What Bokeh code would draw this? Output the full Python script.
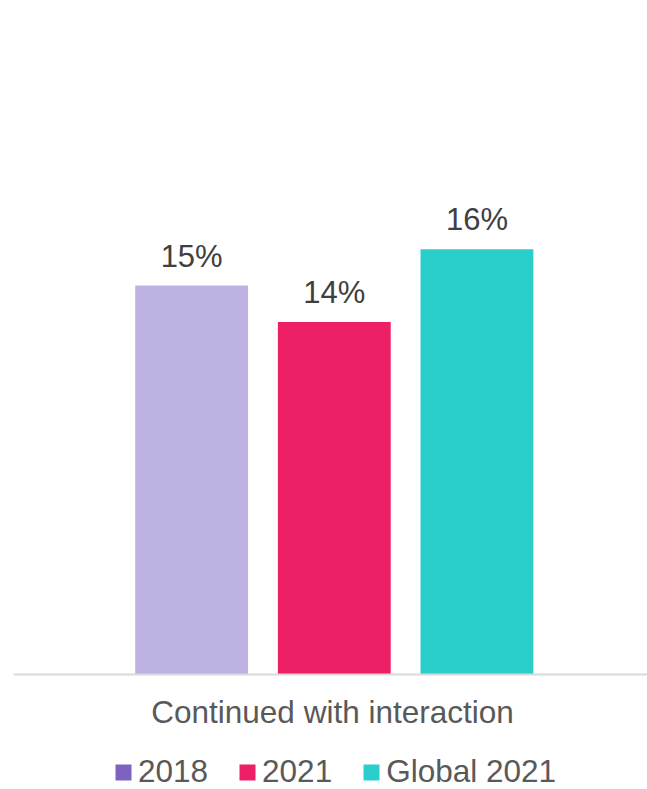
from bokeh.plotting import figure
from bokeh.models import FactorRange, Range1d, Legend, LegendItem, ColumnDataSource, Span
from bokeh.transform import dodge
from bokeh.core.properties import value
from bokeh.embed import file_html
from bokeh.resources import INLINE

category = ["Continued with interaction"]
series = ["2018", "2021", "Global 2021"]
values = [15.0, 13.6, 16.4]
labels = ["15%", "14%", "16%"]
bar_colors = ["#BDB2E1", "#ED1F67", "#2ACFCB"]
legend_colors = ["#7D62BF", "#ED1F67", "#2ACFCB"]

offsets = [-0.219, 0.006, 0.231]
bar_width = 0.178
FONT = "Liberation Sans"

p = figure(x_range=FactorRange(*category), y_range=Range1d(-4.44, 26),
           frame_width=634, frame_height=789,
           min_border_left=13, min_border_right=0, min_border_top=0, min_border_bottom=0,
           output_backend="svg", toolbar_location=None)

items = []
for i, s in enumerate(series):
    src = ColumnDataSource(dict(x=[category[0]], top=[values[i]], label=[labels[i]]))
    xs = dodge("x", offsets[i], range=p.x_range)
    p.vbar(x=xs, top="top", bottom=0, width=bar_width, source=src,
           fill_color=bar_colors[i], line_color=None)
    p.text(x=xs, y="top", text="label", source=src, y_offset=-12,
           text_align="center", text_baseline="bottom",
           text_font=value(FONT), text_font_size="31px", text_color="#404040")
    # zero-height proxy renderer, used only for the legend swatch colour
    proxy = ColumnDataSource(dict(x=[category[0]], top=[0]))
    r = p.vbar(x=xs, top="top", bottom=0, width=0.0, source=proxy,
               fill_color=legend_colors[i], line_color=None)
    items.append(LegendItem(label=s, renderers=[r]))

# category axis line and label
p.add_layout(Span(location=0, dimension="width", line_color="#D9D9D9", line_width=2))
cat_src = ColumnDataSource(dict(x=category, y=[0], label=category))
p.text(x="x", y="y", text="label", source=cat_src, y_offset=56, x_offset=2,
       text_align="center", text_baseline="bottom",
       text_font=value(FONT), text_font_size="31.5px", text_color="#595959")

legend = Legend(items=items, orientation="horizontal", location=(100, -1),
                glyph_width=20, glyph_height=20, label_standoff=5, spacing=29,
                padding=0, margin=0, border_line_alpha=0, background_fill_alpha=0,
                label_text_font=FONT, label_text_font_size="31.5px",
                label_text_color="#595959")
p.add_layout(legend, "center")

p.xaxis.visible = False
p.yaxis.visible = False
p.xgrid.visible = False
p.ygrid.visible = False
p.outline_line_color = None

open("out.html", "w").write(file_html(p, INLINE))
